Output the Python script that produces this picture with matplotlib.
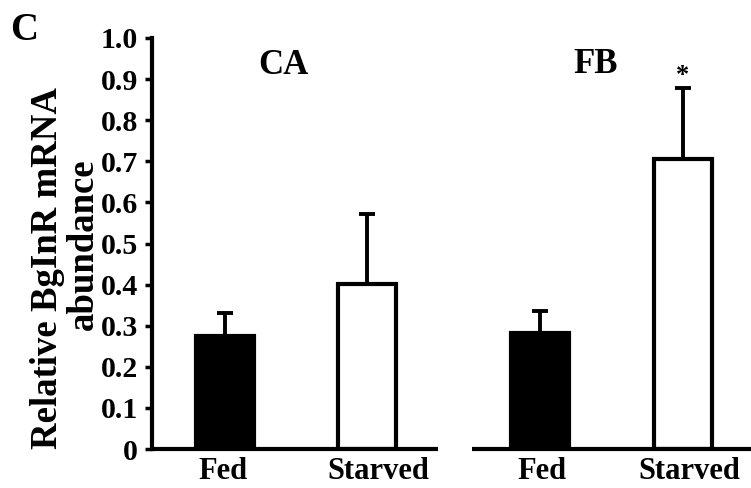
import matplotlib

matplotlib.use("Agg")
import matplotlib.pyplot as plt

# values
tissues = ["CA", "FB"]
conditions = ["Fed", "Starved", "Fed", "Starved"]
means = [0.275, 0.401, 0.282, 0.706]
errors = [0.056, 0.171, 0.054, 0.172]
colors = ["black", "white", "black", "white"]
yticks = [0, 0.1, 0.2, 0.3, 0.4, 0.5, 0.6, 0.7, 0.8, 0.9, 1.0]
ytick_labels = ["0", "0.1", "0.2", "0.3", "0.4", "0.5", "0.6", "0.7", "0.8", "0.9", "1.0"]

# layout in pixel units of the 751x488 figure
W, H = 751, 488
bar_x = [225, 367, 540, 683]
label_x = [223, 378, 542, 689]
title_x = [283, 596]
title_y = [0.912, 0.915]
segments = [(152, 438), (472, 751)]

font = "Liberation Serif"
plt.rcParams["font.family"] = font
plt.rcParams["font.weight"] = "bold"

fig = plt.figure(figsize=(W / 100, H / 100), dpi=100)
ax = fig.add_axes([152 / W, (H - 449) / H, (W - 152) / W, 411 / H])
ax.set_xlim(152, W)
ax.set_ylim(0, 1.0)

ax.bar(bar_x, means, width=58, color=colors, edgecolor="black", linewidth=3, zorder=3)
ax.errorbar(bar_x, means, yerr=[[0] * len(means), errors], fmt="none", ecolor="black",
            elinewidth=2.8, capsize=6, capthick=2.8, zorder=2)

for x0, x1 in segments:
    ax.plot([x0, x1], [0, 0], color="black", linewidth=3, solid_capstyle="butt",
            clip_on=False, zorder=4)

for name, tx, ty in zip(tissues, title_x, title_y):
    ax.text(tx, ty, name, ha="center", va="baseline", fontsize=25, fontweight="bold")
ax.text(bar_x[3], 0.893, "*", ha="center", va="baseline", fontsize=19, fontweight="bold")

for side in ["top", "right", "bottom"]:
    ax.spines[side].set_visible(False)
ax.spines["left"].set_linewidth(3)

ax.set_yticks(yticks)
ax.set_yticklabels(ytick_labels, fontsize=21.5, fontweight="bold")
ax.tick_params(axis="y", direction="out", length=5, width=2.5, pad=5)
ax.set_xticks(label_x)
ax.set_xticklabels(conditions, fontsize=22, fontweight="bold")
ax.tick_params(axis="x", length=0, pad=6)

fig.text(57 / W, (H - 268) / H, "Relative BgInR mRNA", rotation=90, rotation_mode="anchor",
         ha="center", va="baseline", fontsize=26.5, fontweight="bold")
fig.text(93 / W, (H - 244) / H, "abundance", rotation=90, rotation_mode="anchor",
         ha="center", va="baseline", fontsize=26.5, fontweight="bold")
fig.text(24 / W, (H - 40) / H, "C", ha="center", va="baseline", fontsize=28, fontweight="bold")

fig.savefig("out.png", dpi=100)
plt.close(fig)
